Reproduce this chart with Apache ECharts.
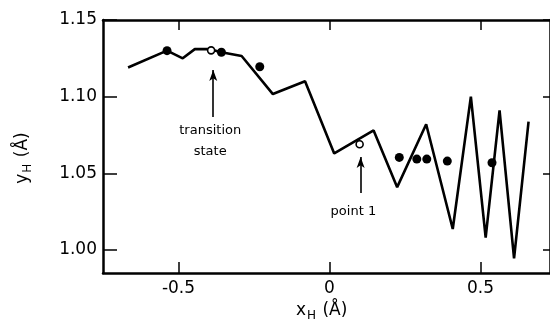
<!DOCTYPE html>
<html>
<head>
<meta charset="utf-8">
<script src="https://cdn.jsdelivr.net/npm/echarts@6/dist/echarts.min.js"></script>
<style>
  html, body { margin: 0; padding: 0; background: #fff; }
  #chart { width: 550px; height: 325px; }
</style>
</head>
<body>
<div id="chart"></div>
<script>
// Trajectory path of the H atom (x_H, y_H), in Å
const pathX = [-0.667, -0.538, -0.486, -0.446, -0.396, -0.358, -0.291, -0.1875, -0.081, 0.0155, 0.146, 0.224, 0.320, 0.408, 0.468, 0.517, 0.563, 0.611, 0.659];
const pathY = [1.119, 1.130, 1.125, 1.131, 1.131, 1.129, 1.1265, 1.1017, 1.110, 1.063, 1.078, 1.041, 1.082, 1.0137, 1.100, 1.008, 1.091, 0.9946, 1.0837];

// Filled points
const filledX = [-0.538, -0.358, -0.231, 0.231, 0.289, 0.322, 0.390, 0.538];
const filledY = [1.130, 1.129, 1.1195, 1.0604, 1.0593, 1.0593, 1.058, 1.0569];

// Open points: transition state and point 1
const openX = [-0.392, 0.0997];
const openY = [1.1302, 1.069];

// Tick values
const xTicks = [-0.5, 0, 0.5];
const yTicks = [1.00, 1.05, 1.10, 1.15];

// Annotation arrows (tail -> head) and their texts
const arrowTransition = [[-0.385, 1.0867], [-0.385, 1.1174]];
const arrowPoint1 = [[0.103, 1.0372], [0.103, 1.0606]];
const annotTexts = ['transition', 'state', 'point 1'];
const annotX = [-0.395, -0.395, 0.079];
const annotY = [1.078, 1.0639, 1.0248];

const FONT = 'DejaVu Sans';
const pair = (xs, ys) => xs.map((v, i) => [v, ys[i]]);

const chart = echarts.init(document.getElementById('chart'), null, { renderer: 'canvas' });

const frameLine = { show: true, onZero: false, lineStyle: { color: '#000', width: 2.5 } };
const tickStyle = { color: '#000', width: 1.5 };

chart.setOption({
  animation: false,
  backgroundColor: '#fff',
  grid: { left: 103, top: 20, right: -3, bottom: 52 },
  xAxis: [
    {
      type: 'value', position: 'bottom', min: -0.75, max: 0.73,
      axisLine: frameLine,
      splitLine: { show: false },
      axisTick: { show: true, inside: true, length: 11, customValues: xTicks, lineStyle: tickStyle },
      axisLabel: {
        customValues: xTicks, margin: 7, color: '#000', fontFamily: FONT, fontSize: 17,
        formatter: v => (v === 0 ? '0' : v.toFixed(1))
      }
    },
    {
      type: 'value', position: 'top', min: -0.75, max: 0.73,
      axisLine: frameLine,
      splitLine: { show: false },
      axisTick: { show: true, inside: true, length: 10, customValues: xTicks, lineStyle: tickStyle },
      axisLabel: { show: false }
    }
  ],
  yAxis: [
    {
      type: 'value', position: 'left', min: 0.985, max: 1.15,
      axisLine: frameLine,
      splitLine: { show: false },
      axisTick: { show: true, inside: true, length: 14, customValues: yTicks, lineStyle: tickStyle },
      axisLabel: {
        customValues: yTicks, margin: 6, color: '#000', fontFamily: FONT, fontSize: 17,
        formatter: v => v.toFixed(2)
      }
    },
    {
      type: 'value', position: 'right', min: 0.985, max: 1.15,
      axisLine: frameLine,
      splitLine: { show: false },
      axisTick: { show: true, inside: true, length: 7, customValues: yTicks, lineStyle: tickStyle },
      axisLabel: { show: false }
    }
  ],
  series: [
    {
      type: 'line', data: pair(pathX, pathY), symbol: 'none',
      lineStyle: { color: '#000', width: 2.6 }, z: 3,
      markLine: {
        silent: true, symbol: ['none', 'arrow'], symbolSize: [6, 11],
        label: { show: false },
        lineStyle: { color: '#000', width: 1.6, type: 'solid' },
        data: [
          [{ coord: arrowTransition[0] }, { coord: arrowTransition[1] }],
          [{ coord: arrowPoint1[0] }, { coord: arrowPoint1[1] }]
        ]
      }
    },
    {
      type: 'scatter', data: pair(filledX, filledY), symbol: 'circle', symbolSize: 9,
      itemStyle: { color: '#000', opacity: 1 }, z: 4
    },
    {
      type: 'scatter', data: pair(openX, openY), symbol: 'circle', symbolSize: 7,
      itemStyle: { color: '#fff', borderColor: '#000', borderWidth: 1.6, opacity: 1 }, z: 5
    },
    {
      type: 'scatter', data: annotX.map((v, i) => [v, annotY[i], annotTexts[i]]),
      symbolSize: 0, silent: true, z: 6,
      itemStyle: { opacity: 1 },
      label: {
        show: true, position: 'inside', color: '#000', fontFamily: FONT, fontSize: 13,
        opacity: 1,
        formatter: p => p.data[2]
      }
    }
  ],
  graphic: [
    {
      type: 'text', left: 296, top: 302,
      style: {
        text: '{n|x}{s|H}{n| (Å)}',
        fill: '#000',
        rich: {
          n: { fontFamily: FONT, fontSize: 17, fill: '#000' },
          s: { fontFamily: FONT, fontSize: 12, fill: '#000', padding: [10, 1, 0, 1] }
        }
      }
    },
    {
      type: 'text', x: 23, y: 158, rotation: Math.PI / 2,
      style: {
        text: '{n|y}{s|H}{n| (Å)}',
        align: 'center', verticalAlign: 'middle',
        fill: '#000',
        rich: {
          n: { fontFamily: FONT, fontSize: 17, fill: '#000' },
          s: { fontFamily: FONT, fontSize: 12, fill: '#000', padding: [10, 1, 0, 1] }
        }
      }
    }
  ]
});
</script>
</body>
</html>
